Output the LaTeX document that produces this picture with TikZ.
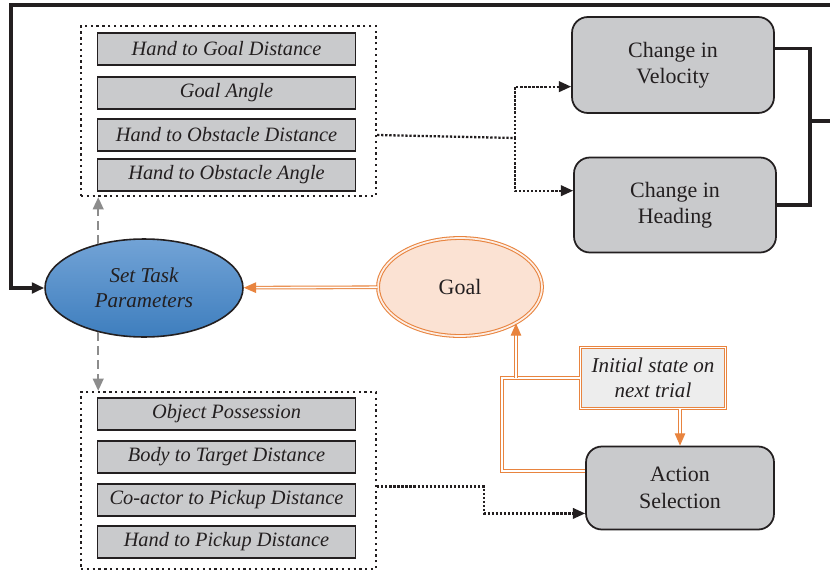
\documentclass[tikz,border=0pt]{standalone}
\usepackage{fontspec}
\setmainfont{Liberation Serif}
\usetikzlibrary{arrows.meta,positioning,shapes.geometric,calc}
\definecolor{dgtext}{HTML}{231F20}
\definecolor{dgbox}{HTML}{C9CACC}
\definecolor{dgorange}{HTML}{E8843F}
\definecolor{dggoal}{HTML}{FBE2D3}
\definecolor{dgblueT}{HTML}{72A3D6}
\definecolor{dgblueB}{HTML}{3E7EBE}
\definecolor{dginit}{HTML}{EDEDED}
\definecolor{dggray}{HTML}{8C8C8C}

\begin{document}
\begin{tikzpicture}[x=0.02cm,y=-0.02cm,
  param/.style={rectangle,draw=dgtext,line width=0.8pt,fill=dgbox,
                minimum width=5.16cm,minimum height=0.64cm,inner sep=0pt,
                font=\fontsize{11.6}{13}\selectfont\itshape,text=dgtext},
  grp/.style={rectangle,draw=dgtext,dotted,line width=1.3pt},
  actbox/.style={rectangle,rounded corners=9pt,draw=dgtext,line width=1pt,
                 fill=dgbox,align=center,text=dgtext,
                 font=\fontsize{12.5}{15}\selectfont},
  frame/.style={draw=dgtext,line width=1.8pt,-{Triangle[length=7pt,width=6pt]}},
  dotarr/.style={draw=dgtext,densely dotted,line width=1.3pt,
                 -{Triangle[length=7pt,width=6pt]}},
  gdash/.style={draw=dggray,line width=1.4pt,dash pattern=on 5pt off 3pt,
                -{Triangle[length=7pt,width=6pt]}},
  orline/.style={draw=dgorange,double=white,double distance=0.9pt,line width=0.6pt},
  orarr/.style={orline,-{Triangle[length=7pt,width=6pt,fill=dgorange]}}
]
  \useasboundingbox (0,0) rectangle (830,571);

  % ---- Task parameters (top group) ----------------------------
  \node[grp,minimum width=5.9cm,minimum height=3.4cm] (grpA) at (228.5,111) {};
  \node[param] (a1) at (226.5, 49) {Hand to Goal Distance};
  \node[param] (a2) at (226.5, 93) {Goal Angle};
  \node[param] (a3) at (226.5,135) {Hand to Obstacle Distance};
  \node[param] (a4) at (226.5,175) {Hand to Obstacle Angle};

  % ---- Task parameters (bottom group) -------------------------
  \node[grp,minimum width=5.9cm,minimum height=3.54cm] (grpB) at (228.5,480.5) {};
  \node[param] (b1) at (226.5,414) {Object Possession};
  \node[param] (b2) at (226.5,457) {Body to Target Distance};
  \node[param] (b3) at (226.5,500) {Co-actor to Pickup Distance};
  \node[param] (b4) at (226.5,542) {Hand to Pickup Distance};

  % ---- Ellipses ------------------------------------------------
  \node[ellipse,draw=dgtext,line width=0.9pt,top color=dgblueT,bottom color=dgblueB,
        minimum width=3.96cm,minimum height=1.96cm,align=center,text=dgtext,
        font=\fontsize{12}{14.5}\selectfont\itshape]
    (task) at (144,288) {Set Task\\Parameters};
  \node[ellipse,draw=dgorange,double=dggoal!60,double distance=1pt,line width=0.6pt,
        fill=dggoal,minimum width=3.28cm,minimum height=1.96cm,text=dgtext,
        font=\fontsize{12.5}{15}\selectfont]
    (goal) at (460,287) {Goal};

  % ---- Action boxes --------------------------------------------
  \node[actbox,minimum width=4.04cm,minimum height=1.92cm] (vel) at (673,65)
    {Change in\\Velocity};
  \node[actbox,minimum width=4.04cm,minimum height=1.9cm] (hd) at (675,205)
    {Change in\\Heading};
  \node[actbox,minimum width=3.76cm,minimum height=1.66cm] (act) at (680,488)
    {Action\\Selection};
  \node[rectangle,draw=dgorange,double=white,double distance=0.9pt,line width=0.6pt,
        fill=dginit,minimum width=2.9cm,minimum height=1.22cm,align=center,
        text=dgtext,font=\fontsize{12}{14}\selectfont\itshape]
    (init) at (653,378) {Initial state on\\next trial};

  % ---- Dotted links to actions ---------------------------------
  \coordinate (spl) at (515,138);
  \draw[dotarr,-] (grpA.east |- a3) -- (spl);
  \draw[dotarr] (spl) |- (vel.192);
  \draw[dotarr] (spl) |- (hd.172);
  \coordinate (jB) at (484,500);
  \draw[dotarr] ([yshift=-0.12cm]grpB.east) -| (jB) |- (act.195);

  % ---- Gray dashed links to parameter groups -------------------
  \draw[gdash] (task.136) -- (task.136 |- grpA.south);
  \draw[gdash] (task.224) -- (task.224 |- grpB.north);

  % ---- Feedback loop (black) -----------------------------------
  \coordinate (brk) at (810,121);
  \coordinate (topR) at (850,5);
  \coordinate (topL) at (11,5);
  \draw[frame,-] (vel.9) -| (brk) |- (hd.east);
  \draw[frame] (brk) -| (topR) -- (topL) |- (task.west);

  % ---- Orange links --------------------------------------------
  \draw[orarr] (goal) -- (task);
  \draw[orarr] (act.north |- init.south) -- (act.north);
  \coordinate (lp) at (502,420);
  \draw[orline] (act.170) -| (lp) |- (init.west);
  \draw[orarr] (goal.-33 |- init.west) -- (goal.-33);

\end{tikzpicture}
\end{document}
